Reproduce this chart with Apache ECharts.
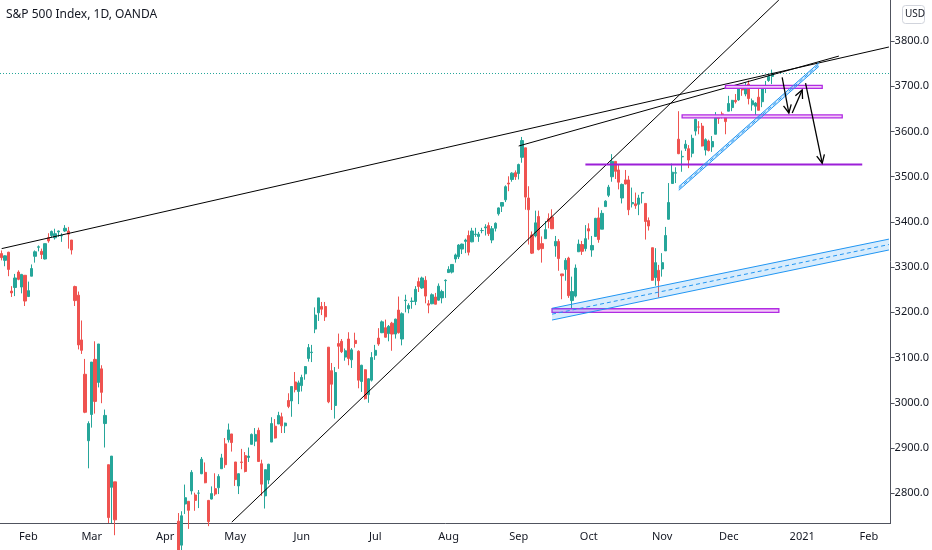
<!DOCTYPE html>
<html><head><meta charset="utf-8">
<script src="https://cdn.jsdelivr.net/npm/echarts@6/dist/echarts.min.js"></script>
<style>html,body{margin:0;padding:0;background:#fff}#c{width:932px;height:550px}</style>
</head><body><div id="c"></div>
<script>
const startDate = '2020-01-22';
const holidays = ['2020-02-17','2020-04-10','2020-05-25','2020-07-03','2020-09-07','2020-11-26','2020-12-25','2021-01-01'];
const categoryCount = 267;
const monthNames = ['2021','Feb','Mar','Apr','May','Jun','Jul','Aug','Sep','Oct','Nov','Dec'];
const yTicks = [2800,2900,3000,3100,3200,3300,3400,3500,3600,3700,3800];
const lastPrice = 3729.1;
// [open, close, low, high]
const ohlc = [
[3330,3321,3315,3337],[3315,3325,3302,3326],[3333,3295,3280,3334],[3247,3243,3234,3258],[3255,3276,3236,3285],[3289,3273,3271,3293],[3256,3284,3242,3285],[3282,3225,3214,3282],
[3235,3248,3234,3268],[3280,3297,3280,3306],[3324,3334,3310,3337],[3344,3345,3335,3348],[3335,3328,3318,3341],[3318,3352,3317,3352],[3365,3358,3354,3375],[3370,3379,3366,3381],[3365,3374,3361,3385],[3378,3380,3367,3381],[3369,3370,3356,3375],[3380,3386,3378,3393],[3380,3373,3341,3389],[3360,3338,3328,3360],[3257,3226,3214,3259],[3238,3128,3118,3246],[3139,3116,3108,3182],[3063,2979,2977,3097],[2916,2954,2855,2959],
[2974,3090,2945,3090],[3096,3003,2976,3136],[3045,3130,3034,3130],[3075,3023,2999,3083],[2954,2972,2901,2985],[2863,2746,2734,2863],[2813,2882,2734,2882],[2825,2741,2707,2825],[2630,2480,2478,2660],[2569,2711,2492,2711],[2508,2386,2380,2562],[2425,2529,2367,2553],[2436,2398,2280,2453],[2393,2409,2319,2466],[2431,2305,2295,2453],[2291,2237,2192,2300],[2345,2447,2345,2449],[2458,2476,2411,2572],[2501,2630,2491,2637],[2556,2541,2520,2616],[2558,2627,2546,2632],[2614,2585,2581,2641],
[2515,2471,2448,2522],[2458,2527,2455,2534],[2514,2489,2459,2539],[2578,2664,2575,2677],[2738,2659,2657,2756],[2685,2750,2665,2760],[2776,2790,2754,2819],[2782,2762,2721,2782],[2805,2846,2797,2851],[2796,2784,2761,2801],[2800,2800,2767,2807],[2843,2875,2842,2880],[2846,2823,2822,2868],[2784,2737,2727,2785],[2787,2799,2786,2815],[2810,2798,2794,2844],[2812,2837,2798,2842],[2854,2878,2854,2887],[2909,2863,2856,2922],[2918,2940,2912,2954],[2931,2912,2892,2931],
[2869,2830,2816,2869],[2816,2843,2798,2844],[2869,2868,2853,2898],[2883,2848,2846,2891],[2879,2882,2869,2901],[2908,2930,2908,2932],[2915,2930,2904,2944],[2939,2870,2869,2945],[2865,2820,2794,2874],[2794,2852,2766,2852],[2829,2864,2820,2865],[2913,2954,2913,2968],[2948,2922,2921,2964],[2953,2972,2953,2980],[2969,2949,2933,2978],[2949,2955,2933,2956],[3005,2992,2988,3021],[3004,3036,2969,3036],[3046,3029,3023,3068],[3025,3044,2997,3049],
[3038,3056,3025,3062],[3064,3080,3051,3081],[3098,3122,3091,3130],[3111,3112,3090,3128],[3163,3194,3154,3211],[3199,3232,3181,3232],[3213,3207,3194,3223],[3213,3190,3181,3223],[3123,3002,2999,3123],[3071,3041,2984,3088],[2994,3067,2965,3079],[3131,3125,3075,3153],[3136,3113,3110,3141],[3101,3115,3093,3120],[3141,3098,3083,3156],[3095,3117,3077,3121],[3138,3131,3122,3155],[3114,3050,3032,3116],[3047,3083,3024,3084],[3073,3009,3007,3074],[3018,3053,3000,3054],[3050,3100,3047,3112],
[3105,3116,3095,3128],[3143,3130,3126,3165],[3155,3179,3154,3182],[3166,3145,3144,3184],[3153,3169,3136,3172],[3176,3152,3115,3179],[3152,3185,3142,3186],[3205,3155,3153,3235],[3141,3197,3127,3200],[3226,3227,3200,3239],[3208,3215,3198,3220],[3224,3225,3208,3233],[3224,3251,3216,3258],[3268,3257,3245,3277],[3254,3276,3252,3279],[3271,3236,3220,3280],[3219,3216,3198,3227],[3219,3239,3218,3242],[3234,3218,3218,3243],[3227,3258,3226,3264],[3232,3246,3220,3250],[3270,3271,3232,3273],
[3288,3295,3288,3302],[3289,3306,3286,3306],[3318,3327,3310,3330],[3323,3349,3318,3351],[3340,3351,3329,3352],[3357,3360,3331,3363],[3370,3333,3326,3381],[3356,3380,3355,3387],[3372,3373,3367,3387],[3368,3373,3356,3378],[3381,3381,3375,3387],[3387,3389,3370,3395],[3392,3374,3369,3399],[3360,3385,3353,3391],[3386,3397,3379,3399],[3418,3431,3414,3432],[3435,3443,3422,3444],[3449,3478,3444,3481],[3486,3484,3468,3501],[3494,3508,3489,3510],[3509,3500,3493,3514],
[3507,3527,3494,3529],[3543,3580,3531,3588],[3564,3455,3427,3564],[3453,3427,3350,3479],[3371,3331,3329,3379],[3369,3398,3366,3425],[3412,3339,3337,3425],[3352,3341,3310,3368],[3363,3383,3363,3402],[3407,3401,3386,3419],[3411,3385,3384,3428],[3347,3357,3323,3369],[3357,3319,3292,3362],[3285,3281,3229,3285],[3295,3315,3270,3320],[3320,3237,3232,3323],[3226,3246,3209,3279],[3236,3298,3233,3306],[3334,3351,3334,3361],[3350,3335,3327,3358],[3341,3363,3335,3393],
[3385,3380,3361,3397],[3338,3348,3323,3369],[3368,3408,3367,3409],[3409,3361,3354,3432],[3384,3419,3384,3426],[3434,3446,3434,3448],[3459,3477,3455,3482],[3500,3534,3489,3550],[3534,3512,3495,3534],[3515,3488,3472,3528],[3453,3483,3441,3485],[3493,3484,3483,3515],[3493,3427,3415,3502],[3440,3443,3432,3476],[3440,3436,3429,3465],[3439,3453,3415,3460],[3464,3465,3441,3466],[3441,3401,3361,3441],[3403,3391,3381,3410],[3343,3271,3270,3343],[3277,3310,3259,3342],[3293,3270,3233,3305],
[3296,3310,3279,3331],[3336,3370,3336,3389],[3406,3443,3405,3486],[3485,3510,3485,3529],[3508,3509,3486,3521],[3583,3551,3550,3645],[3544,3545,3511,3558],[3563,3572,3557,3581],[3562,3537,3519,3570],[3552,3585,3543,3593],[3601,3627,3591,3628],[3610,3610,3594,3623],[3612,3568,3567,3619],[3559,3582,3547,3585],[3579,3558,3556,3582],[3566,3578,3555,3590],[3594,3635,3594,3643],[3635,3629,3617,3635],[3639,3638,3629,3644],[3634,3622,3594,3634],
[3645,3662,3645,3679],[3653,3669,3645,3670],[3669,3666,3662,3683],[3670,3699,3668,3699],[3694,3692,3679,3698],[3683,3702,3678,3708],[3705,3673,3660,3713],[3659,3668,3646,3673],[3656,3663,3634,3665],[3676,3647,3647,3697],[3666,3695,3654,3695],[3696,3701,3685,3712],[3713,3722,3710,3725],[3722,3729,3705,3737]
];
// drawing annotations in data coordinates: [catIndex, price, ...]
const trendLines = [[0,3341,266,3787],[155,3568,251.4,3767],[69.3,2736,233,3891]];
const purpleLines = [[175,258.2,3527]];
const purpleBoxes = [[204,251.5,3631,3637],[217,246,3696,3702],[165,233,3200,3208]];
const channels = [[165,3183,3209,266,3338,3362],[202.8,3470,3478,245.4,3744,3752]];
const arrows = [[233.8,3720,235.9,3641],[237.4,3641,239.8,3692],[240.7,3707,246.3,3530]];

const cats = [];
let d = new Date(startDate + 'T00:00:00Z');
while (cats.length < categoryCount) {
  const s = d.toISOString().slice(0,10), wd = d.getUTCDay();
  if (wd !== 0 && wd !== 6 && holidays.indexOf(s) < 0) cats.push(s);
  d = new Date(d.getTime() + 86400000);
}
const isMonthStart = i => i > 0 && cats[i].slice(5,7) !== cats[i-1].slice(5,7);
const labelOf = v => monthNames[(+v.slice(5,7)) - 1];

const items = [{value:[0], kind:'last', p:[0, categoryCount-1, lastPrice]}];
trendLines.forEach(t => items.push({value:[0], kind:'line', p:t}));
purpleLines.forEach(t => items.push({value:[0], kind:'pline', p:t}));
purpleBoxes.forEach(t => items.push({value:[0], kind:'box', p:t}));
channels.forEach(t => items.push({value:[0], kind:'chan', p:t}));
arrows.forEach(t => items.push({value:[0], kind:'arrow', p:t}));

function renderItem(params, api) {
  const it = items[params.dataIndex], p = it.p;
  const c = (x, y) => api.coord([x, y]);
  if (it.kind === 'last') {
    const a = c(p[0],p[2]), b = c(p[1],p[2]);
    return {type:'line', shape:{x1:0,y1:Math.round(a[1])+0.5,x2:b[0]+3,y2:Math.round(a[1])+0.5}, style:{stroke:'#26a69a',lineWidth:1,lineDash:[1,2]}};
  }
  if (it.kind === 'line') {
    const a = c(p[0],p[1]), b = c(p[2],p[3]);
    return {type:'line', shape:{x1:a[0],y1:a[1],x2:b[0],y2:b[1]}, style:{stroke:'#000',lineWidth:1}};
  }
  if (it.kind === 'pline') {
    const a = c(p[0],p[2]), b = c(p[1],p[2]);
    return {type:'line', shape:{x1:a[0],y1:a[1],x2:b[0],y2:b[1]}, style:{stroke:'#9c1fd8',lineWidth:2}};
  }
  if (it.kind === 'box') {
    const a = c(p[0],p[3]), b = c(p[1],p[2]);
    return {type:'rect', shape:{x:a[0],y:a[1],width:b[0]-a[0],height:Math.max(3,b[1]-a[1])}, style:{fill:'#f2c9f7',stroke:'#b12be3',lineWidth:1.3}};
  }
  if (it.kind === 'chan') {
    const a1 = c(p[0],p[1]), a2 = c(p[0],p[2]), b1 = c(p[3],p[4]), b2 = c(p[3],p[5]);
    const m1 = [(a1[0]+a2[0])/2,(a1[1]+a2[1])/2], m2 = [(b1[0]+b2[0])/2,(b1[1]+b2[1])/2];
    return {type:'group', children:[
      {type:'polygon', shape:{points:[a1,b1,b2,a2]}, style:{fill:'rgba(33,150,243,0.18)'}},
      {type:'line', shape:{x1:a1[0],y1:a1[1],x2:b1[0],y2:b1[1]}, style:{stroke:'#2196f3',lineWidth:1}},
      {type:'line', shape:{x1:a2[0],y1:a2[1],x2:b2[0],y2:b2[1]}, style:{stroke:'#2196f3',lineWidth:1}},
      {type:'line', shape:{x1:m1[0],y1:m1[1],x2:m2[0],y2:m2[1]}, style:{stroke:'#2196f3',lineWidth:1,lineDash:[4,3]}}
    ]};
  }
  if (it.kind === 'arrow') {
    const a = c(p[0],p[1]), b = c(p[2],p[3]);
    const ang = Math.atan2(b[1]-a[1], b[0]-a[0]), L = 9, w = 0.45;
    const h1 = [b[0]-L*Math.cos(ang-w), b[1]-L*Math.sin(ang-w)], h2 = [b[0]-L*Math.cos(ang+w), b[1]-L*Math.sin(ang+w)];
    return {type:'group', children:[
      {type:'line', shape:{x1:a[0],y1:a[1],x2:b[0],y2:b[1]}, style:{stroke:'#000',lineWidth:1.3}},
      {type:'polyline', shape:{points:[h1,b,h2]}, style:{stroke:'#000',lineWidth:1.3,fill:null}}
    ]};
  }
}

const chart = echarts.init(document.getElementById('c'));
chart.setOption({
  animation:false,
  backgroundColor:'#fff',
  grid:{left:0,right:37,top:0,bottom:27},
  textStyle:{fontFamily:'Noto Sans'},
  xAxis:{type:'category', data:cats, boundaryGap:true,
    axisLine:{lineStyle:{color:'#50535e'}},
    axisTick:{interval:(i)=>isMonthStart(i), length:4, lineStyle:{color:'#50535e'}},
    axisLabel:{interval:(i)=>isMonthStart(i), formatter:labelOf, color:'#131722', fontSize:11, margin:8},
    splitLine:{show:false}},
  yAxis:{type:'value', position:'right', min:2734, max:3891, scale:true,
    axisLine:{show:true, lineStyle:{color:'#50535e'}},
    axisTick:{show:true, length:4, customValues:yTicks, lineStyle:{color:'#50535e'}},
    axisLabel:{customValues:yTicks, formatter:v=>v.toFixed(1), color:'#131722', fontSize:11, margin:4},
    splitLine:{show:false}},
  series:[
    {type:'candlestick', data:ohlc, barWidth:'80%', clip:true,
      itemStyle:{color:'#26a69a', color0:'#ef5350', borderColor:'#26a69a', borderColor0:'#ef5350', borderWidth:1},
      markLine:{silent:true, symbol:'none', animation:false,
        data:[{yAxis:lastPrice}],
        lineStyle:{opacity:0},
        label:{position:'end', formatter:()=>lastPrice.toFixed(1), color:'#fff', backgroundColor:'#26a69a', padding:[3,5,2,4], fontSize:11, distance:1}}},
    {type:'custom', renderItem:renderItem, data:items, clip:true, z:5, silent:true}
  ],
  graphic:[
    {type:'text', left:6, top:9, style:{text:'S&P 500 Index, 1D, OANDA', fill:'#131722', font:'12px "Noto Sans"'}},
    {type:'rect', left:902, top:5, shape:{width:22,height:18,r:3}, style:{fill:'#fff',stroke:'#d1d4dc',lineWidth:1}},
    {type:'text', left:905, top:9, style:{text:'USD', fill:'#131722', font:'10px "Noto Sans"'}}
  ]
});
</script></body></html>
